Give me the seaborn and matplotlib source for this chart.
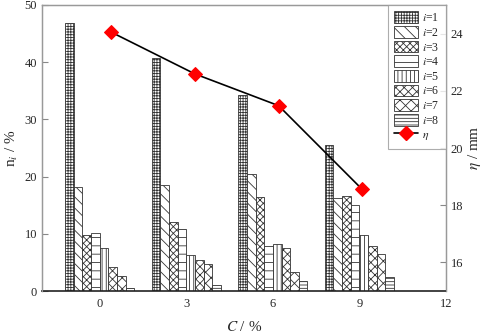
import numpy as np
import pandas as pd
import matplotlib
matplotlib.use("Agg")
import matplotlib.pyplot as plt
import seaborn as sns
from matplotlib.lines import Line2D
from matplotlib.patches import Patch

sns.set_style("ticks")
plt.rcParams['font.family'] = ['Liberation Serif', 'DejaVu Serif']
plt.rcParams['mathtext.fontset'] = 'stix'
plt.rcParams['hatch.linewidth'] = 0.6

C_values = [0, 3, 6, 9]
series = ["i=1", "i=2", "i=3", "i=4", "i=5", "i=6", "i=7", "i=8"]
n_i1 = [46.8, 40.8, 34.3, 25.5]
n_i2 = [18.2, 18.6, 20.5, 16.2]
n_i3 = [9.8, 12.1, 16.5, 16.6]
n_i4 = [10.2, 10.8, 7.9, 15.1]
n_i5 = [7.6, 6.3, 8.2, 9.8]
n_i6 = [4.2, 5.5, 7.5, 7.9]
n_i7 = [2.7, 4.7, 3.4, 6.4]
n_i8 = [0.6, 1.1, 1.8, 2.5]
eta_x = [0.4, 3.3, 6.2, 9.1]
eta = [24.05, 22.59, 21.48, 18.55]

values = [n_i1, n_i2, n_i3, n_i4, n_i5, n_i6, n_i7, n_i8]
df = pd.DataFrame({
    "C": C_values * len(series),
    "series": [s for s in series for _ in C_values],
    "n": [v for vals in values for v in vals],
})

hatches = ['++++++', '\\\\\\', 'xxxxx', '--', '||||', 'xxxx', 'xxx', '-----']
bar_w = 0.3

fig = plt.figure(figsize=(4.84, 3.33), dpi=100)
ax = fig.add_axes([0.0868, 0.126, 0.8347, 0.859])

for k, s in enumerate(series):
    sub = df[df.series == s]
    xs = np.array(sub.C) + (k - 3.5) * bar_w
    ax.bar(xs, sub.n, width=bar_w, facecolor='white', edgecolor='#333333',
           linewidth=0.6, hatch=hatches[k], zorder=2)

ax.set_xlim(-2, 12)
ax.set_ylim(0, 50)
ax.set_xticks([0, 3, 6, 9, 12])
ax.set_yticks([0, 10, 20, 30, 40, 50])
ax.tick_params(axis='x', length=0, labelsize=9, pad=5)
ax.tick_params(axis='y', direction='in', length=4, labelsize=9, color='#888888')
for sp in ['left', 'top', 'right']:
    ax.spines[sp].set_color('#999999')
    ax.spines[sp].set_linewidth(1.0)
ax.spines['bottom'].set_color('#222222')
ax.spines['bottom'].set_linewidth(1.2)
ax.set_xlabel(r'$C$ / %', fontsize=11, labelpad=7)
ax.set_ylabel(r'n$_{\it i}$ / %', fontsize=11, labelpad=3)

ax2 = ax.twinx()
sns.lineplot(x=eta_x, y=eta, ax=ax2, color='black', linewidth=1.2,
             marker='D', markersize=7, markerfacecolor='red',
             markeredgecolor='red', zorder=5)
ax2.set_ylim(15, 25)
ax2.set_yticks([16, 18, 20, 22, 24])
ax2.tick_params(axis='y', direction='in', length=4, labelsize=9, color='#888888')
for sp in ['left', 'top', 'right']:
    ax2.spines[sp].set_color('#999999')
ax2.spines['bottom'].set_visible(False)
ax2.set_ylabel(r'$\eta$ / mm', fontsize=11, labelpad=2)

handles = [Patch(facecolor='white', edgecolor='#333333', linewidth=0.6,
                 hatch=hatches[k]) for k in range(8)]
handles.append(Line2D([0], [0], color='black', linewidth=1.2, marker='D',
                      markersize=7, markerfacecolor='red', markeredgecolor='red'))
labels = [rf'$i$={k+1}' for k in range(8)] + [r'$\eta$']
leg = ax2.legend(handles, labels, loc='upper right', bbox_to_anchor=(1.0, 1.0),
                 borderaxespad=0.0, fontsize=8.5, frameon=True, fancybox=False,
                 handlelength=2.0, handleheight=1.15, labelspacing=0.15,
                 handletextpad=0.35, borderpad=0.55)
leg.get_frame().set_edgecolor('#999999')
leg.get_frame().set_linewidth(0.8)

fig.savefig("out.png", dpi=100)
